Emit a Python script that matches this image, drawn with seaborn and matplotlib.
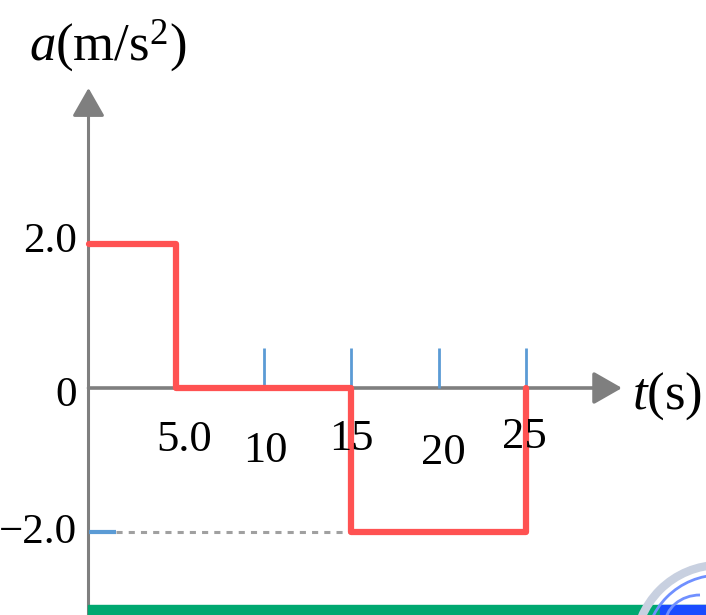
import numpy as np
import pandas as pd
import matplotlib
matplotlib.use("Agg")
import matplotlib.pyplot as plt
import seaborn as sns
from matplotlib.patches import Rectangle, Arc

# ---- data ----
edges = [0, 5, 15, 25]          # t (s) where acceleration changes
accel = [2.0, 0.0, -2.0]        # a (m/s^2) on each interval
xtick_vals = [5, 10, 15, 20, 25]
xtick_labels = ["5.0", "10", "15", "20", "25"]
ytick_vals = [2.0, 0.0, -2.0]
ytick_labels = ["2.0", "0", "\u22122.0"]

# build step path corners
t_pts = list(np.repeat(edges, 2)[1:-1]) + [edges[-1]]
a_pts = list(np.repeat(accel, 2)) + [0.0]
df = pd.DataFrame({"t": t_pts, "a": a_pts})

sns.set_theme(style="white")
plt.rcParams["font.family"] = ["Liberation Serif", "DejaVu Serif"]
plt.rcParams["mathtext.fontset"] = "custom"
plt.rcParams["mathtext.rm"] = "Liberation Serif"
plt.rcParams["mathtext.it"] = "Liberation Serif:italic"

W, H = 706, 615
fig = plt.figure(figsize=(W / 100, H / 100), dpi=100)
ax = fig.add_axes([0, 0, 1, 1])
x0px, y0px, sx, sy = 88.5, 388.0, 17.5, 72.0
ax.set_xlim((0 - x0px) / sx, (W - x0px) / sx)
ax.set_ylim((y0px - H) / sy, (y0px - 0) / sy)
ax.axis("off")

gray = "#7f7f7f"
blue = "#5b9bd5"
red = "#ff5252"

# axes with arrows
ax.annotate("", xy=(0, (y0px - 88) / sy), xytext=(0, (y0px - H) / sy),
            arrowprops=dict(arrowstyle="-|>,head_length=0.7,head_width=0.4",
                            color=gray, lw=2.2, mutation_scale=25,
                            shrinkA=0, shrinkB=0), zorder=2)
ax.annotate("", xy=((622 - x0px) / sx, 0), xytext=(0, 0),
            arrowprops=dict(arrowstyle="-|>,head_length=0.7,head_width=0.4",
                            color=gray, lw=2.6, mutation_scale=25,
                            shrinkA=0, shrinkB=0), zorder=2)

# blue tick marks
ax.vlines(xtick_vals[1:], 0, 40 / sy, color=blue, lw=2, zorder=3)
ax.hlines(ytick_vals[-1], 0, 27 / sx, color=blue, lw=3, zorder=3)
# dashed guide
ax.hlines(ytick_vals[-1], 27 / sx, edges[2], color="#a0a0a0", lw=2.2,
          linestyles=(0, (2, 2)), zorder=2)

# step line
sns.lineplot(data=df, x="t", y="a", sort=False, estimator=None,
             color=red, lw=4.5, ax=ax, zorder=4)
ax.set_xlabel("")
ax.set_ylabel("")

# tick labels (staggered as in original), offsets in pixels
x_off = [(8, -52), (1.5, -63), (0, -51), (4.5, -65), (-1.5, -49)]
for v, lab, (dx, dy) in zip(xtick_vals, xtick_labels, x_off):
    ax.annotate(lab, xy=(v, 0), xytext=(dx * 0.72, dy * 0.72),
                textcoords="offset points", ha="center", va="center",
                fontsize=32, color="black", zorder=5)
y_pos = [(77, 242), (77, 396), (77, 533)]
for v, lab, (px, py) in zip(ytick_vals, ytick_labels, y_pos):
    ax.text(px / W, 1 - py / H, lab, transform=ax.transAxes,
            ha="right", va="center", fontsize=31, color="black")

# axis labels
ax.text(108 / W, 1 - 46 / H, r"$a$(m/s$^2$)", transform=ax.transAxes,
        ha="center", va="center", fontsize=38, color="black")
ax.text(667 / W, 1 - 396 / H, r"$t$(s)", transform=ax.transAxes,
        ha="center", va="center", fontsize=38, color="black")

# decorative footer bar
fig.patches.append(Rectangle((88 / W, 0), (W - 88) / W, 10 / H,
                             transform=fig.transFigure, color="#00a870",
                             zorder=1))
fig.patches.append(Rectangle((660 / W, 0), 46 / W, 10 / H,
                             transform=fig.transFigure, color="#1a4cff",
                             zorder=2))
for (cx, cy, w, h, c, lw) in [(720, 650, 170, 170, "#c8d0e0", 6),
                              (720, 650, 150, 150, "#7090ff", 2),
                              (700, 625, 70, 60, "#7090ff", 2)]:
    fig.patches.append(Arc((cx / W, 1 - cy / H), w / W, h / H,
                           theta1=90, theta2=180, transform=fig.transFigure,
                           color=c, lw=lw, zorder=3))

fig.savefig("out.png", dpi=100)
